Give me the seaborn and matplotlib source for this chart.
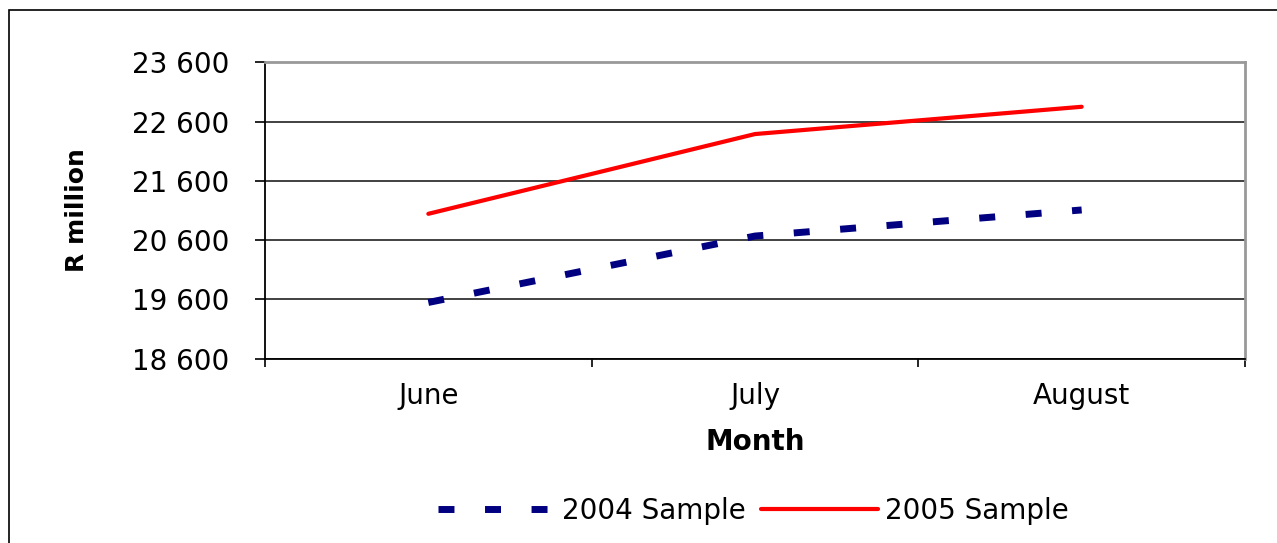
import matplotlib
matplotlib.use("Agg")
import matplotlib.pyplot as plt
import matplotlib.patches as mpatches
import seaborn as sns
import pandas as pd

months = ["June", "July", "August"]
sample_2004 = [19550, 20670, 21110]
sample_2005 = [21045, 22390, 22850]
series_names = ["2004 Sample", "2005 Sample"]
y_ticks = [18600, 19600, 20600, 21600, 22600, 23600]

sns.set_theme(style="white")
plt.rcParams["font.family"] = ["DejaVu Sans"]
plt.rcParams.update({
    "text.color": "black",
    "axes.labelcolor": "black",
    "xtick.color": "black",
    "ytick.color": "black",
})

df04 = pd.DataFrame({"Month": months, "R million": sample_2004})
df05 = pd.DataFrame({"Month": months, "R million": sample_2005})

fig = plt.figure(figsize=(12.77, 5.43), dpi=100)
ax = fig.add_axes([265 / 1277, 1 - 358.8 / 543, (1245 - 265) / 1277, (358.8 - 62.3) / 543])

sns.lineplot(data=df04, x="Month", y="R million", ax=ax, color="#000080",
             linewidth=5, linestyle=(0, (2.3, 4.4)), label=series_names[0],
             legend=False)
sns.lineplot(data=df05, x="Month", y="R million", ax=ax, color="#FF0000",
             linewidth=3, label=series_names[1], legend=False)

ax.set_xlim(-0.5, 2.5)
ax.set_ylim(y_ticks[0], y_ticks[-1])
ax.set_yticks(y_ticks)
ax.set_yticklabels([f"{v:,}".replace(",", " ") for v in y_ticks], fontsize=20)
ax.set_xticks(range(len(months)))
ax.set_xticklabels(months, fontsize=20)
ax.set_xticks([-0.5, 0.5, 1.5, 2.5], minor=True)

ax.yaxis.grid(True, color="#333333", linewidth=1.3)
ax.set_axisbelow(True)

ax.tick_params(axis="y", which="major", direction="out", length=7, width=1.2,
               color="black", pad=18.5, left=True)
ax.tick_params(axis="x", which="major", length=0, pad=17)
ax.tick_params(axis="x", which="minor", direction="out", length=6, width=1.2,
               color="black", bottom=True)

for side in ("left", "bottom"):
    ax.spines[side].set_color("black")
    ax.spines[side].set_linewidth(1.3)
for side in ("right", "top"):
    ax.spines[side].set_color("#999999")
    ax.spines[side].set_linewidth(2)

ax.set_xlabel("Month", fontsize=20, fontweight="bold", labelpad=13)
ax.set_ylabel("R million", fontsize=18, fontweight="bold", labelpad=31)

handles, labels = ax.get_legend_handles_labels()
fig.legend(handles, labels, loc="center", bbox_to_anchor=(0.59, 0.059),
           ncol=2, frameon=False, fontsize=20, handlelength=4.2,
           handletextpad=0.25, columnspacing=0.55)

# Outer frame around the chart area
frame = mpatches.Rectangle((9 / 1277, -0.05), 1.2, 1 - 10 / 543 + 0.05,
                           transform=fig.transFigure, fill=False,
                           edgecolor="black", linewidth=1.2)
fig.patches.append(frame)

fig.savefig("out.png", dpi=100)
